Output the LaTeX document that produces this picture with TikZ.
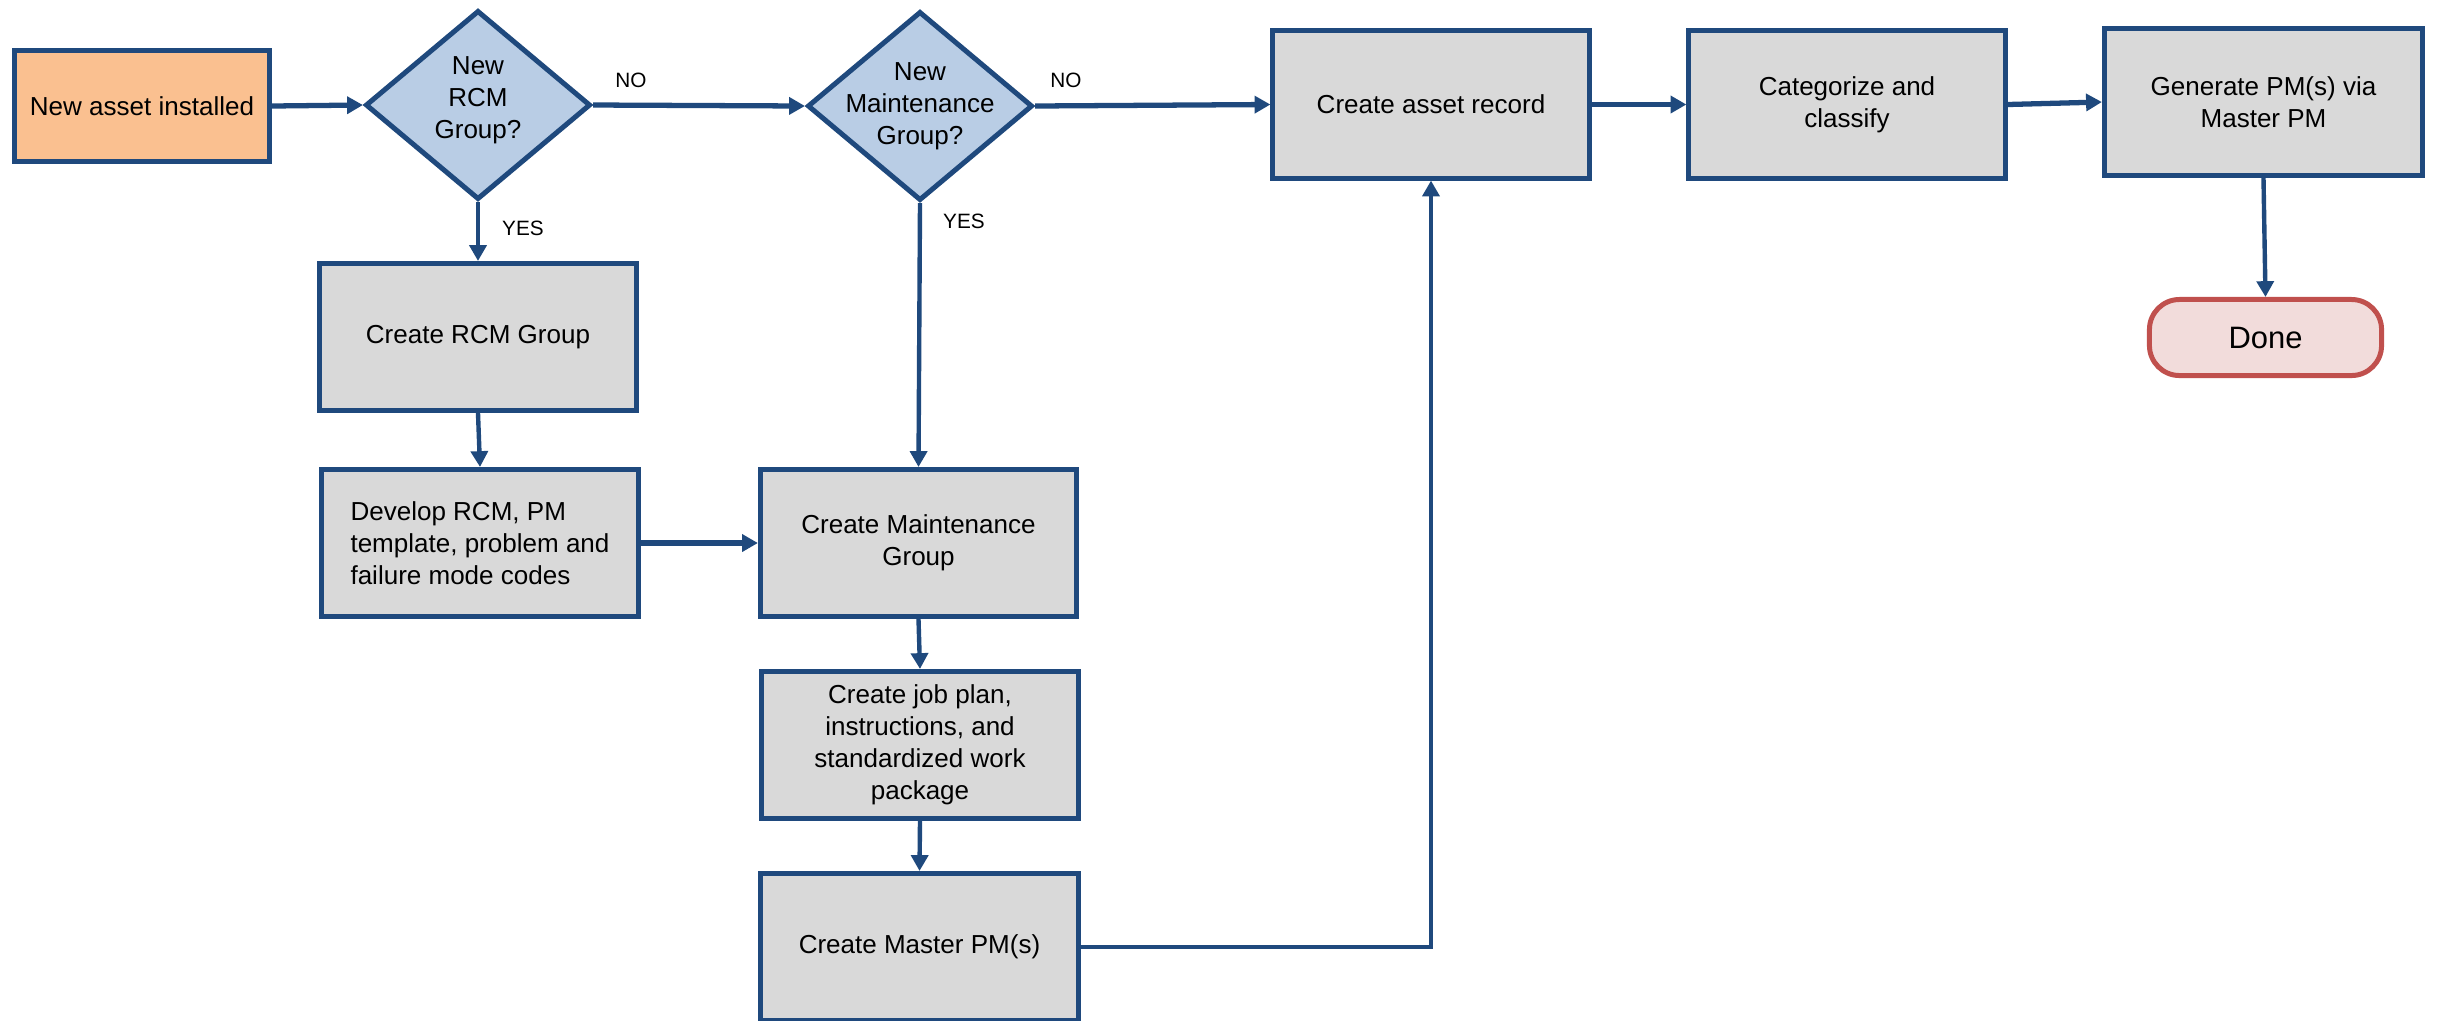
\documentclass[tikz,border=0pt]{standalone}
\usepackage{fontspec}
\setmainfont{Liberation Sans}
\usepackage{tikz}
\usetikzlibrary{positioning}
\usetikzlibrary{shapes.geometric}
\usetikzlibrary{arrows.meta}
\definecolor{flowblue}{HTML}{1F497D}
\definecolor{boxgray}{HTML}{D9D9D9}
\definecolor{qblue}{HTML}{B9CDE5}
\definecolor{startorange}{HTML}{FAC090}
\definecolor{donepink}{HTML}{F2DCDB}
\definecolor{donered}{HTML}{C0504D}
\tikzset{stepbox/.style={draw=flowblue, fill=boxgray, line width=1.42pt, minimum width=3.16cm, minimum height=1.47cm, inner sep=0pt, align=center, font=\fontsize{7.4}{9.1}\selectfont}}
\tikzset{decision/.style={diamond, draw=flowblue, fill=qblue, line width=1.42pt, minimum width=2.25cm, minimum height=1.89cm, inner sep=0pt}}
\tikzset{qtext/.style={align=center, inner sep=0pt, font=\fontsize{7.4}{9.1}\selectfont}}
\tikzset{flow/.style={draw=flowblue, line width=1.25pt, -{Triangle[length=4.5pt,width=4.8pt]}}}
\tikzset{flowthick/.style={flow, line width=1.5pt}}
\tikzset{lbl/.style={font=\fontsize{5.9}{7}\selectfont, inner sep=0pt}}

\begin{document}
\begin{tikzpicture}[x=0.01cm, y=-0.01cm]
\useasboundingbox (0,0) rectangle (2438,1020);
% top row
\node[stepbox, fill=startorange, minimum width=2.55cm, minimum height=1.11cm] (start) at (142,106) {New asset installed};
\node[decision, label={[qtext, yshift=0.05cm]center:New\\RCM\\Group?}] (rcmq) at (478,105) {};
\node[decision, label={[qtext]center:New\\Maintenance\\Group?}] (mgq) at (920,106) {};
\node[stepbox] (asset) at (1431,104.5) {Create asset record};
\node[stepbox] (categ) at (1847,104.5) {Categorize and\\classify};
\node[stepbox, minimum width=3.18cm] (gen) at (2263.5,102) {Generate PM(s) via\\Master PM};
\node[stepbox, draw=donered, fill=donepink, rounded corners=0.3cm, minimum width=2.32cm, minimum height=0.76cm, font=\fontsize{8.8}{10}\selectfont] (done) at (2265.5,337.5) {Done};
% RCM branch
\node[stepbox] (rcmgrp) at (478,337) {Create RCM Group};
\node[stepbox, align=left] (develop) at (480,543) {Develop RCM, PM\\template, problem and\\failure mode codes};
% maintenance branch
\node[stepbox] (maintgrp) at (918.5,543) {Create Maintenance\\Group};
\node[stepbox] (jobplan) at (920,745) {Create job plan,\\instructions, and\\standardized work\\package};
\node[stepbox, minimum width=3.18cm] (masterpm) at (919.5,947) {Create Master PM(s)};
% labels
\node[lbl] (no1) at (631,80) {NO};
\node[lbl] (no2) at (1066,80) {NO};
\node[lbl] (yes1) at (523,228) {YES};
\node[lbl] (yes2) at (964,221) {YES};
% connectors
\draw[flowthick] (start.east) -- (rcmq.west);
\draw[flowthick] (rcmq.east) -- (mgq.west);
\draw[flowthick] (mgq.east) -- (asset.west);
\draw[flowthick] (asset.east) -- (categ.west);
\draw[flowthick] (categ.east) -- (gen.west);
\draw[flow] (gen.south) -- (done.north);
\draw[flow] (rcmq.south) -- (rcmgrp.north);
\draw[flow] (rcmgrp.south) -- (develop.north);
\draw[flowthick] (develop.east) -- (maintgrp.west);
\draw[flow] (mgq.south) -- (maintgrp.north);
\draw[flow] (maintgrp.south) -- (jobplan.north);
\draw[flow] (jobplan.south) -- (masterpm.north);
\draw[flow] (masterpm.east) -| (asset.south);
\end{tikzpicture}
\end{document}
